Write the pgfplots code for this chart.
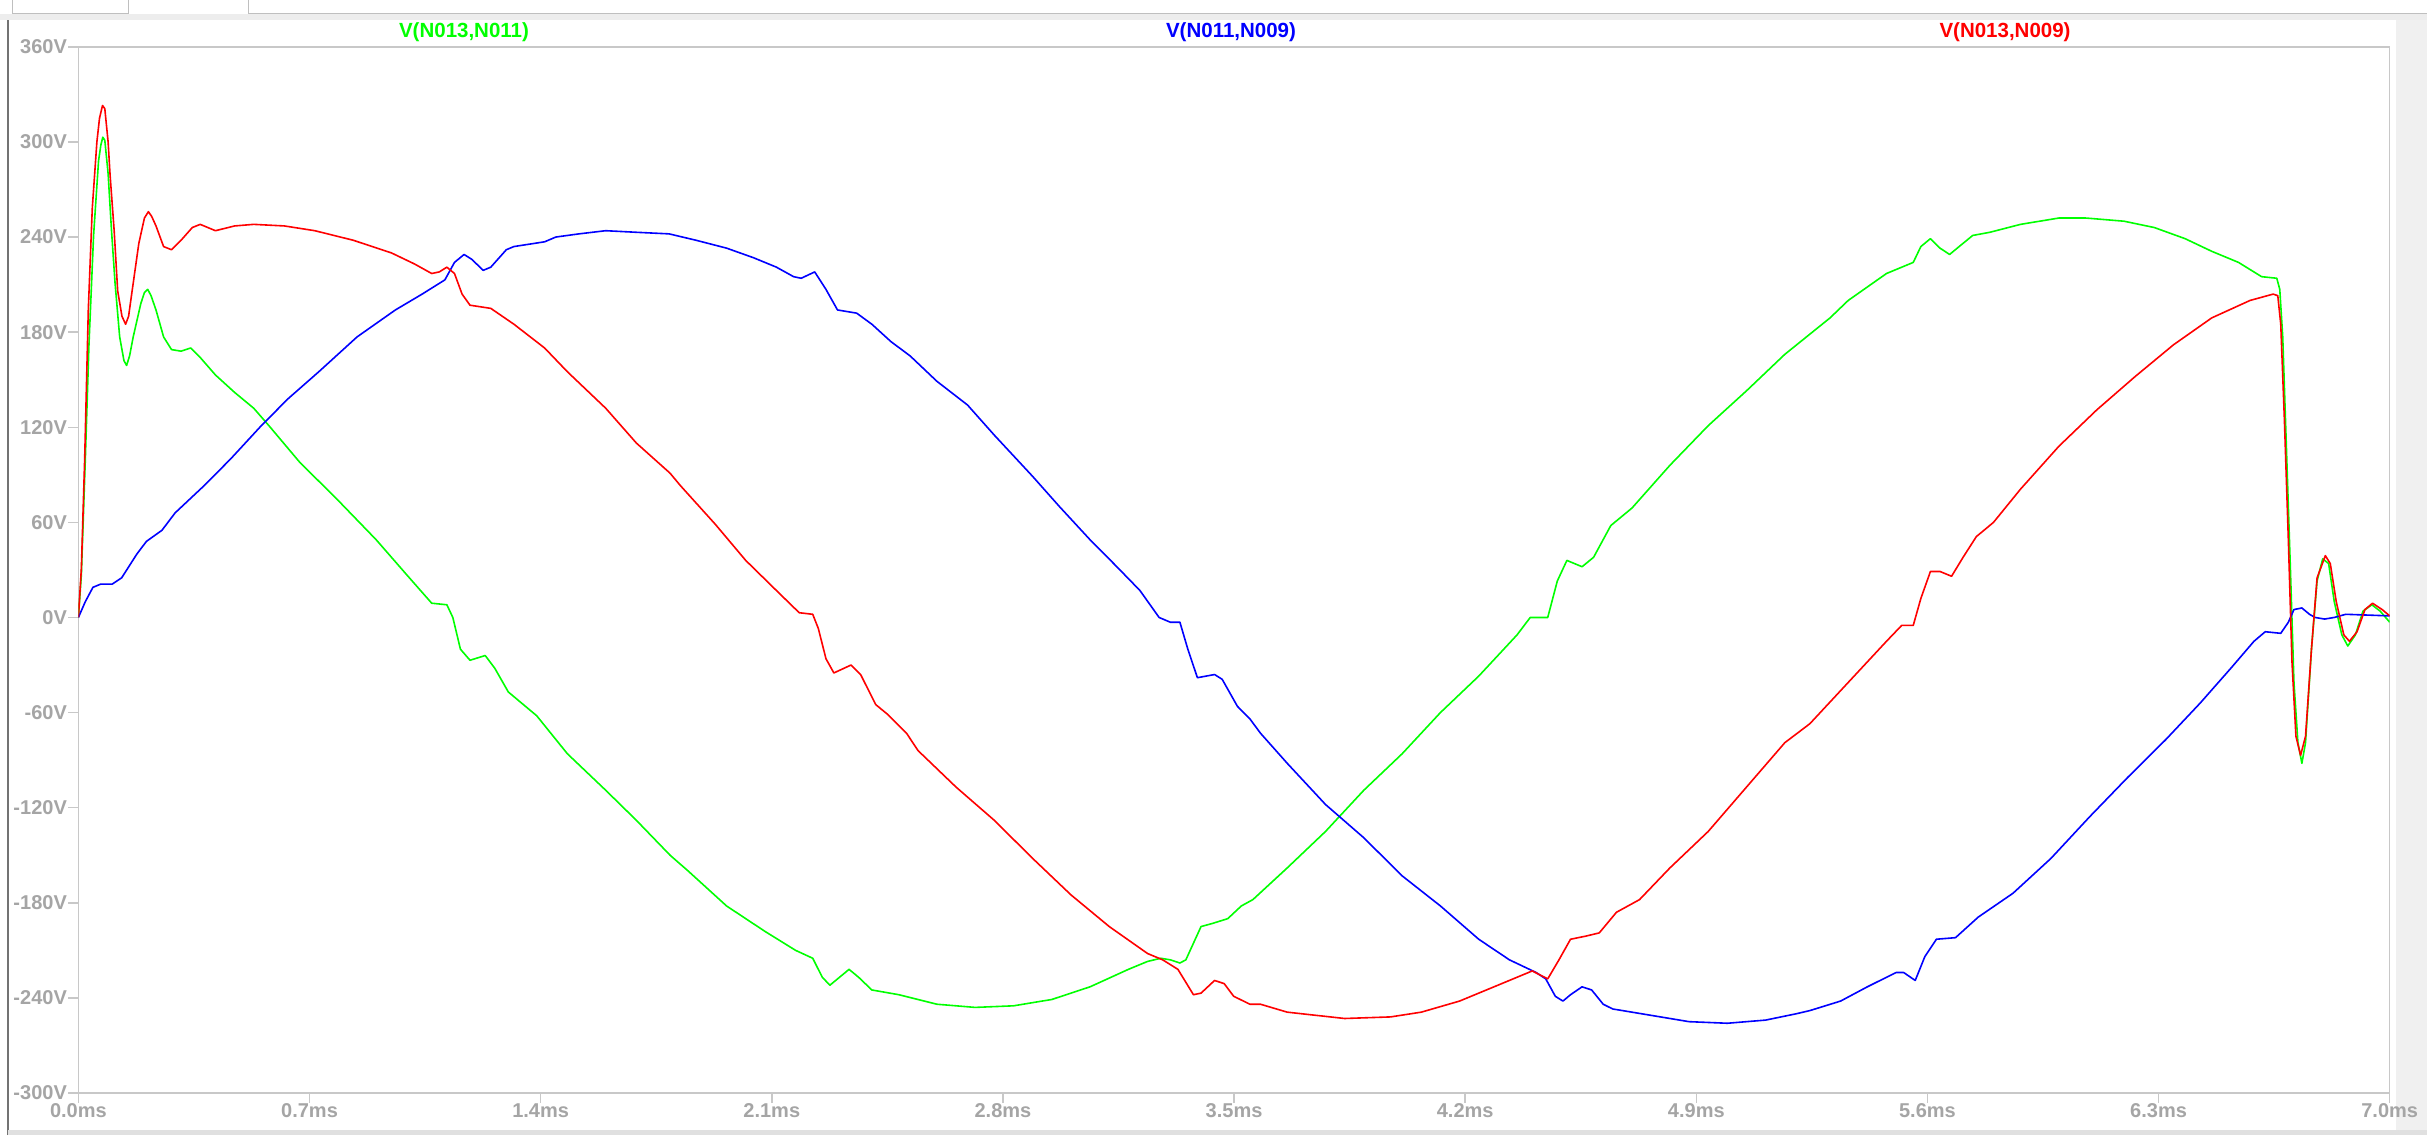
\documentclass[border=0pt]{standalone}
\usepackage{fontspec}
\setmainfont{Liberation Sans}
\setsansfont{Liberation Sans}
\usepackage{pgfplots}
\pgfplotsset{compat=1.18}
\definecolor{lblgray}{RGB}{165,165,165}
\definecolor{axgray}{RGB}{200,200,200}
\definecolor{lgreen}{RGB}{0,255,0}
\definecolor{lblue}{RGB}{0,0,255}
\definecolor{lred}{RGB}{255,0,0}
\begin{document}
\begin{tikzpicture}[x=1pt,y=1pt]
\fill[white] (0,0) rectangle (2427,1135);
% window decorations
\fill[black!7] (0,1115) rectangle (2427,1121);
\draw[black!25, line width=1pt] (12,1135) -- (12,1121) -- (128,1121) -- (128,1135);
\draw[black!25, line width=1pt] (248,1135) -- (248,1121) -- (2427,1121);
\fill[black!6] (2396,0) rectangle (2427,1115);
\draw[black!55, line width=2pt] (8,0) -- (8,1115);
\fill[black!12] (8,0) rectangle (2427,5);
\begin{axis}[
  at={(78.4pt,42pt)}, anchor=south west,
  width=2311.4pt, height=1046.2pt, scale only axis,
  xmin=0, xmax=7, ymin=-300, ymax=360,
  xtick={0,0.7,1.4,2.1,2.8,3.5,4.2,4.9,5.6,6.3,7.0},
  xticklabels={0.0ms,0.7ms,1.4ms,2.1ms,2.8ms,3.5ms,4.2ms,4.9ms,5.6ms,6.3ms,7.0ms},
  ytick={-300,-240,-180,-120,-60,0,60,120,180,240,300,360},
  yticklabels={-300V,-240V,-180V,-120V,-60V,0V,60V,120V,180V,240V,300V,360V},
  axis line style={axgray, line width=1.5pt},
  tick style={axgray, line width=1.5pt},
  tick align=outside, major tick length=10pt,
  xtick pos=bottom, ytick pos=left,
  ticklabel style={font=\fontsize{20}{20}\selectfont\bfseries, text=lblgray},
  xticklabel style={yshift=3pt},
  yticklabel style={xshift=2pt},
  clip=true,
  every axis plot/.append style={line width=1.6pt, line join=round},
]
\addplot[lgreen] coordinates {
(0,0)(0.009,27)(0.021,100)(0.032,172)(0.046,241)(0.061,288)(0.068,298)(0.074,303)(0.080,301)
(0.090,280)(0.100,245)(0.111,211)(0.125,177)(0.138,162)(0.146,159)(0.155,165)(0.166,177)(0.189,198)
(0.200,205)(0.210,207)(0.220,203)(0.235,194)
(0.258,177)(0.282,169)(0.311,168)(0.340,170)(0.369,164)(0.415,153)(0.473,142)(0.531,132)
(0.577,121)(0.670,98)(0.786,74)(0.902,49)(0.994,27)(1.070,9)(1.116,8)(1.134,0)
(1.157,-20)(1.186,-27)(1.232,-24)(1.261,-32)(1.302,-47)(1.388,-62)(1.481,-86)(1.597,-109)
(1.690,-128)(1.792,-150)(1.847,-160)(1.963,-182)(2.079,-198)(2.172,-210)(2.224,-215)
(2.253,-227)(2.276,-232)(2.305,-227)(2.334,-222)(2.363,-227)(2.403,-235)(2.485,-238)
(2.600,-244)(2.716,-246)(2.832,-245)(2.948,-241)(3.064,-233)(3.180,-222)(3.238,-217)
(3.278,-215)(3.307,-216)(3.336,-218)(3.354,-216)(3.400,-195)(3.435,-193)(3.481,-190)
(3.522,-182)(3.557,-178)(3.661,-158)(3.777,-135)(3.893,-109)(4.009,-86)(4.125,-60)
(4.241,-37)(4.357,-11)(4.397,0)(4.450,0)(4.479,23)(4.508,36)(4.554,32)(4.589,38)
(4.641,58)(4.705,69)(4.820,96)(4.936,121)(5.052,143)(5.168,166)(5.305,189)(5.360,200)
(5.476,217)(5.557,224)(5.580,234)(5.609,239)(5.638,233)(5.667,229)(5.696,234)(5.737,241)
(5.789,243)(5.882,248)(5.998,252)(6.079,252)(6.195,250)(6.287,246)(6.380,239)(6.461,231)
(6.542,224)(6.612,215)(6.658,214)(6.667,207)(6.676,177)(6.687,108)(6.699,32)(6.710,-41)
(6.722,-79)(6.734,-92)(6.745,-79)(6.763,-20)(6.780,23)(6.797,37)(6.815,34)(6.832,10)
(6.855,-11)(6.873,-18)(6.896,-11)(6.919,4)(6.946,8)(6.971,4)(7.000,-3)
};
\addplot[lblue] coordinates {
(0,0)(0.021,10)(0.044,19)(0.067,21)(0.102,21)(0.131,25)(0.177,40)(0.206,48)(0.253,55)
(0.293,66)(0.380,83)(0.461,100)(0.554,121)(0.635,138)(0.728,155)(0.844,177)(0.960,194)
(1.041,204)(1.110,213)(1.139,224)(1.168,229)(1.191,226)(1.226,219)(1.249,221)(1.296,232)
(1.319,234)(1.412,237)(1.446,240)(1.516,242)(1.597,244)(1.690,243)(1.789,242)(1.870,238)
(1.963,233)(2.044,227)(2.114,221)(2.166,215)(2.189,214)(2.230,218)(2.264,207)(2.299,194)
(2.357,192)(2.403,185)(2.461,174)(2.519,165)(2.600,149)(2.693,134)(2.774,115)(2.890,89)
(2.971,70)(3.064,49)(3.145,32)(3.215,17)(3.273,0)(3.307,-3)(3.336,-3)(3.360,-20)
(3.389,-38)(3.441,-36)(3.464,-39)(3.510,-56)(3.548,-64)(3.580,-73)(3.661,-92)(3.777,-118)
(3.893,-139)(4.009,-163)(4.125,-182)(4.241,-203)(4.334,-216)(4.415,-224)(4.444,-228)
(4.473,-239)(4.496,-242)(4.519,-238)(4.554,-233)(4.583,-235)(4.618,-244)(4.647,-247)
(4.763,-251)(4.878,-255)(4.994,-256)(5.110,-254)(5.203,-250)(5.244,-248)(5.337,-242)
(5.418,-233)(5.505,-224)(5.528,-224)(5.563,-229)(5.592,-214)(5.627,-203)(5.685,-202)
(5.754,-189)(5.859,-174)(5.974,-152)(6.090,-126)(6.206,-101)(6.322,-77)(6.426,-54)
(6.519,-32)(6.589,-15)(6.623,-9)(6.670,-10)(6.693,-3)(6.710,5)(6.734,6)(6.757,2)
(6.774,0)(6.803,-1)(6.832,0)(6.867,2)(7.000,1)
};
\addplot[lred] coordinates {
(0,0)(0.009,31)(0.019,100)(0.030,194)(0.042,258)(0.056,300)(0.064,315)(0.073,323)(0.080,321)
(0.090,300)(0.096,279)(0.108,245)(0.119,206)(0.132,190)(0.143,185)(0.152,190)(0.160,202)(0.183,236)
(0.200,252)(0.212,256)(0.222,253)(0.235,247)
(0.258,234)(0.282,232)(0.311,238)(0.345,246)(0.369,248)(0.415,244)(0.473,247)(0.531,248)
(0.624,247)(0.716,244)(0.832,238)(0.948,230)(1.018,223)(1.070,217)(1.093,218)(1.116,221)
(1.139,217)(1.162,204)(1.186,197)(1.249,195)(1.319,185)(1.412,170)(1.481,155)(1.597,132)
(1.690,110)(1.792,91)(1.824,83)(1.928,59)(2.021,36)(2.114,17)(2.183,3)(2.224,2)
(2.241,-7)(2.264,-26)(2.288,-35)(2.340,-30)(2.369,-36)(2.415,-55)(2.450,-61)(2.508,-73)
(2.543,-84)(2.658,-107)(2.774,-128)(2.890,-152)(3.006,-175)(3.122,-195)(3.238,-212)
(3.284,-216)(3.330,-222)(3.377,-238)(3.400,-237)(3.441,-229)(3.470,-231)(3.499,-239)
(3.548,-244)(3.580,-244)(3.661,-249)(3.835,-253)(3.974,-252)(4.067,-249)(4.183,-242)
(4.299,-232)(4.403,-223)(4.450,-228)(4.484,-216)(4.519,-203)(4.566,-201)(4.606,-199)
(4.658,-186)(4.728,-178)(4.820,-158)(4.936,-135)(5.052,-107)(5.168,-79)(5.244,-67)
(5.360,-41)(5.476,-15)(5.522,-5)(5.557,-5)(5.580,12)(5.609,29)(5.638,29)(5.673,26)
(5.708,38)(5.748,51)(5.800,60)(5.882,81)(5.998,108)(6.113,131)(6.229,152)(6.345,172)
(6.461,189)(6.577,200)(6.647,204)(6.661,203)(6.670,185)(6.681,125)(6.693,49)(6.704,-28)
(6.716,-75)(6.730,-87)(6.745,-75)(6.763,-20)(6.780,25)(6.805,39)(6.820,34)(6.838,10)
(6.861,-11)(6.878,-15)(6.901,-9)(6.925,5)(6.948,9)(6.977,5)(7.000,1)
};
\end{axis}
\node[text=lgreen, font=\fontsize{20.5}{20.5}\selectfont\bfseries] at (464,1103) {V(N013,N011)};
\node[text=lblue, font=\fontsize{20.5}{20.5}\selectfont\bfseries] at (1231,1103) {V(N011,N009)};
\node[text=lred, font=\fontsize{20.5}{20.5}\selectfont\bfseries] at (2005,1103) {V(N013,N009)};
\pgfresetboundingbox
\path[use as bounding box] (0,0) rectangle (2427,1135);
\end{tikzpicture}
\end{document}
